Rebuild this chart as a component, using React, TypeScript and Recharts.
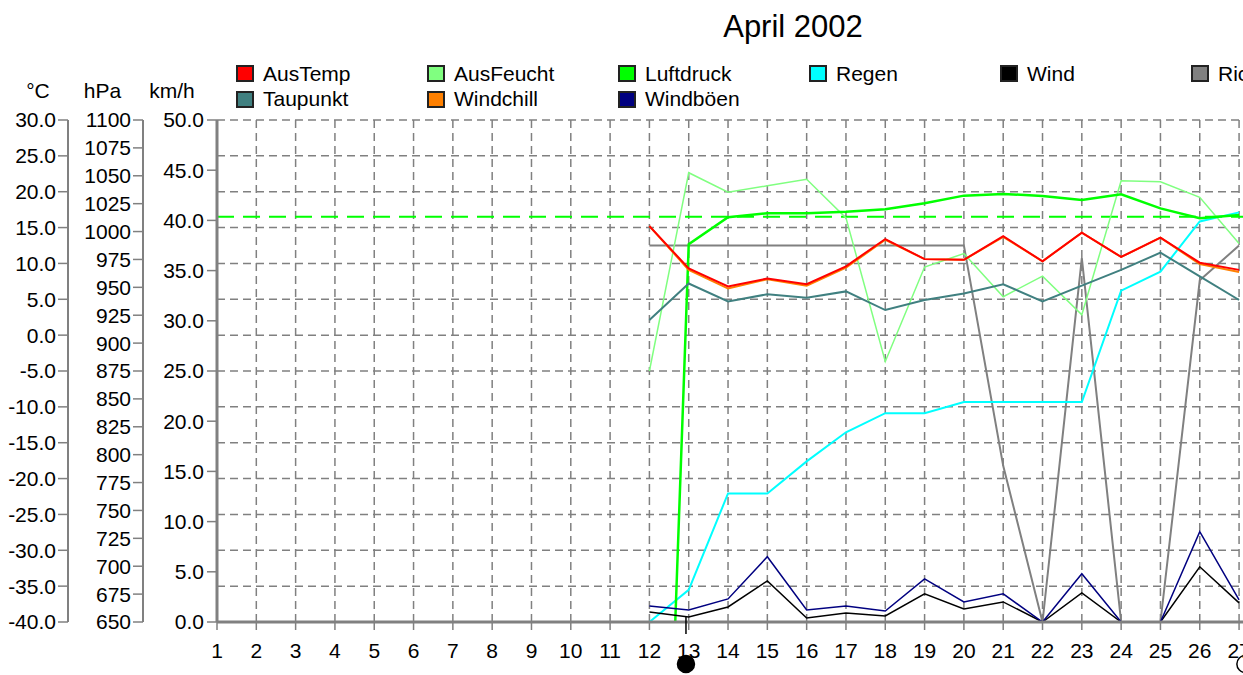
import React from 'react';
import {
  LineChart,
  Line,
  XAxis,
  YAxis,
  CartesianGrid,
  ReferenceLine,
  ReferenceDot,
  Legend,
} from 'recharts';

const FONT = "'Liberation Sans', Arial, sans-serif";

// ---- categories / ticks ----
const days = [1, 2, 3, 4, 5, 6, 7, 8, 9, 10, 11, 12, 13, 14, 15, 16, 17, 18, 19, 20, 21, 22, 23, 24, 25, 26, 27, 28, 29, 30];
const tempTicks = [-40, -35, -30, -25, -20, -15, -10, -5, 0, 5, 10, 15, 20, 25, 30];
const hpaTicks = [650, 675, 700, 725, 750, 775, 800, 825, 850, 875, 900, 925, 950, 975, 1000, 1025, 1050, 1075, 1100];
const kmhTicks = [0, 5, 10, 15, 20, 25, 30, 35, 40, 45, 50];

// ---- series values (days 12 .. 27) ----
const firstDataDay = 12;
const ausTemp = [15.2, 9.3, 6.8, 7.9, 7.1, 9.6, 13.4, 10.6, 10.5, 13.8, 10.3, 14.3, 10.9, 13.6, 10.1, 9.1];
const windchill = [15.2, 9.1, 6.5, 7.8, 6.9, 9.4, 13.3, 10.6, 10.5, 13.7, 10.3, 14.3, 10.9, 13.6, 9.9, 8.8];
const taupunkt = [2.1, 7.2, 4.7, 5.7, 5.2, 6.1, 3.5, 4.9, 5.8, 7.1, 4.7, 6.9, 9.1, 11.5, 8.2, 4.9];
const ausFeucht = [50, 89.5, 85.6, 86.9, 88.2, 80.5, 51.9, 70.7, 73.4, 64.8, 68.9, 61.2, 87.9, 87.7, 84.6, 75.4];
const luftdruck = [0, 988.6, 1012.8, 1016.4, 1016.4, 1017.8, 1020.0, 1025.3, 1032.2, 1033.7, 1031.9, 1028.3, 1033.4, 1020.8, 1011.9, 1014.8];
const regen = [0, 3.2, 12.8, 12.8, 16.0, 18.9, 20.8, 20.8, 21.9, 21.9, 21.9, 21.9, 33.0, 34.9, 39.9, 40.8];
const wind = [1.0, 0.5, 1.5, 4.1, 0.4, 0.9, 0.6, 2.8, 1.3, 2.0, 0, 2.9, 0, 0, 5.5, 1.9];
const windboeen = [1.6, 1.2, 2.3, 6.5, 1.2, 1.6, 1.1, 4.3, 2.0, 2.8, 0, 4.8, 0, 0, 9.0, 2.2];
const richtung = [270, 270, 270, 270, 270, 270, 270, 270, 270, 112, 0, 261, 0, 0, 245, 270];

const normalPressure = 1013.25;
const moonPhases = [
  { day: 12.93, phase: 'new' },
  { day: 27.16, phase: 'full' },
];

// ---- axis ids (ordered: innermost first) ----
const AX_KMH = 'y1kmh';
const AX_HPA = 'y2hpa';
const AX_TEMP = 'y3temp';
const AX_HUM = 'y4hum';
const AX_RAIN = 'y5rain';
const AX_DIR = 'y6dir';

// ---- series styling table ----
type S = { key: string; name: string; color: string; axis: string; width: number };
const series: S[] = [
  { key: 'richtung', name: 'Richtung', color: '#808080', axis: AX_DIR, width: 2 },
  { key: 'regen', name: 'Regen', color: '#00FFFF', axis: AX_RAIN, width: 2 },
  { key: 'ausFeucht', name: 'AusFeucht', color: '#80FF80', axis: AX_HUM, width: 1.5 },
  { key: 'luftdruck', name: 'Luftdruck', color: '#00FF00', axis: AX_HPA, width: 2.5 },
  { key: 'taupunkt', name: 'Taupunkt', color: '#408080', axis: AX_TEMP, width: 2 },
  { key: 'windchill', name: 'Windchill', color: '#FF8000', axis: AX_TEMP, width: 2 },
  { key: 'ausTemp', name: 'AusTemp', color: '#FF0000', axis: AX_TEMP, width: 2 },
  { key: 'wind', name: 'Wind', color: '#000000', axis: AX_KMH, width: 1.5 },
  { key: 'windboeen', name: 'Windböen', color: '#000080', axis: AX_KMH, width: 1.5 },
];
const seriesByKey: Record<string, S> = Object.fromEntries(series.map((s) => [s.key, s]));
const legendRows = [
  ['ausTemp', 'ausFeucht', 'luftdruck', 'regen', 'wind', 'richtung'],
  ['taupunkt', 'windchill', 'windboeen'],
];

const valuesByKey: Record<string, number[]> = {
  ausTemp, windchill, taupunkt, ausFeucht, luftdruck, regen, wind, windboeen, richtung,
};

const data = days.map((d) => {
  const i = d - firstDataDay;
  const row: Record<string, number | null> = { day: d };
  Object.keys(valuesByKey).forEach((k) => {
    const arr = valuesByKey[k];
    row[k] = i >= 0 && i < arr.length ? arr[i] : null;
  });
  return row;
});

const GRAY = '#808080';
const tickStyle = { fill: '#000', fontSize: 21, fontFamily: FONT };

const renderLegend = () => (
  <div style={{ fontSize: 21, fontFamily: FONT, color: '#000' }}>
    {legendRows.map((row, r) => (
      <div key={r} style={{ display: 'flex', height: 25.5 }}>
        {row.map((k) => {
          const s = seriesByKey[k];
          return (
            <div key={k} style={{ width: 191, flex: '0 0 191px', display: 'flex', alignItems: 'center' }}>
              <span
                style={{
                  display: 'inline-block',
                  boxSizing: 'border-box',
                  width: 18,
                  height: 17,
                  border: '2px solid #222',
                  background: s.color,
                }}
              />
              <span style={{ marginLeft: 9, whiteSpace: 'nowrap' }}>{s.name}</span>
            </div>
          );
        })}
      </div>
    ))}
  </div>
);

const MoonShape = (props: any) => {
  const { cx, cy, phase } = props;
  const full = phase === 'full';
  return (
    <g>
      <line x1={cx} x2={cx} y1={cy - 6} y2={cy + 12} stroke="#000" strokeWidth={1.5} />
      <circle
        cx={cx}
        cy={cy + 42}
        r={8.5}
        fill={full ? '#fff' : '#000'}
        stroke="#000"
        strokeWidth={1.5}
      />
    </g>
  );
};

export default function App() {
  return (
    <div
      style={{
        position: 'absolute',
        left: 0,
        top: 0,
        width: 1243,
        height: 675,
        overflow: 'hidden',
        background: '#fff',
        fontFamily: FONT,
      }}
    >
      <div
        style={{
          position: 'absolute',
          left: 0,
          top: 12,
          width: 1586,
          textAlign: 'center',
          fontSize: 31,
          lineHeight: '30px',
          color: '#000',
        }}
      >
        April 2002
      </div>
      <LineChart
        width={1400}
        height={690}
        data={data}
        margin={{ top: 120, right: 43, bottom: 0, left: 0 }}
      >
        <CartesianGrid
          yAxisId={AX_TEMP}
          stroke={GRAY}
          strokeWidth={1.5}
          strokeDasharray="8 5"
        />
        <XAxis
          dataKey="day"
          type="number"
          domain={[1, 30]}
          ticks={days}
          interval={0}
          height={68}
          tickSize={8}
          tickMargin={13}
          tick={tickStyle}
          tickLine={{ stroke: GRAY, strokeWidth: 1.5 }}
          axisLine={{ stroke: GRAY, strokeWidth: 3 }}
          allowDataOverflow
        />
        <XAxis
          xAxisId="top"
          orientation="top"
          type="number"
          domain={[1, 30]}
          height={0}
          tick={false}
          tickLine={false}
          axisLine={{ stroke: GRAY, strokeWidth: 2 }}
        />
        <YAxis
          yAxisId={AX_KMH}
          orientation="left"
          width={74}
          domain={[0, 50]}
          ticks={kmhTicks}
          interval={0}
          tickSize={10}
          tickMargin={3}
          tick={tickStyle}
          tickFormatter={(v: number) => v.toFixed(1)}
          tickLine={{ stroke: GRAY, strokeWidth: 1.5 }}
          axisLine={{ stroke: GRAY, strokeWidth: 3 }}
          allowDataOverflow
          label={{ value: 'km/h', position: 'top', offset: 22, dx: -8, fill: '#000', fontSize: 21 }}
        />
        <YAxis
          yAxisId={AX_HPA}
          orientation="left"
          width={75}
          domain={[650, 1100]}
          ticks={hpaTicks}
          interval={0}
          tickSize={10}
          tickMargin={2}
          tick={tickStyle}
          tickFormatter={(v: number) => String(v)}
          tickLine={{ stroke: GRAY, strokeWidth: 1.5 }}
          axisLine={{ stroke: GRAY, strokeWidth: 2 }}
          allowDataOverflow
          label={{ value: 'hPa', position: 'top', offset: 22, dx: -3, fill: '#000', fontSize: 21 }}
        />
        <YAxis
          yAxisId={AX_TEMP}
          orientation="left"
          width={68}
          domain={[-40, 30]}
          ticks={tempTicks}
          interval={0}
          tickSize={10}
          tickMargin={2}
          tick={tickStyle}
          tickFormatter={(v: number) => v.toFixed(1)}
          tickLine={{ stroke: GRAY, strokeWidth: 1.5 }}
          axisLine={{ stroke: GRAY, strokeWidth: 2 }}
          allowDataOverflow
          label={{ value: '°C', position: 'top', offset: 22, dx: 4, fill: '#000', fontSize: 21 }}
        />
        <YAxis yAxisId={AX_HUM} hide width={0} domain={[0, 100]} allowDataOverflow />
        <YAxis yAxisId={AX_RAIN} hide width={0} domain={[0, 50]} allowDataOverflow />
        <YAxis yAxisId={AX_DIR} hide width={0} domain={[0, 360]} allowDataOverflow />

        <ReferenceLine
          yAxisId={AX_HPA}
          y={normalPressure}
          stroke="#00FF00"
          strokeWidth={2}
          strokeDasharray="17 9"
        />

        {series.map((s) => (
          <Line
            key={s.key}
            yAxisId={s.axis}
            dataKey={s.key}
            name={s.name}
            type="linear"
            stroke={s.color}
            strokeWidth={s.width}
            dot={false}
            activeDot={false}
            isAnimationActive={false}
            connectNulls={false}
          />
        ))}

        {moonPhases.map((m) => (
          <ReferenceDot
            key={m.phase}
            yAxisId={AX_KMH}
            x={m.day}
            y={0}
            ifOverflow="visible"
            shape={(p: any) => <MoonShape {...p} phase={m.phase} />}
          />
        ))}

        <Legend
          layout="horizontal"
          verticalAlign="middle"
          align="center"
          content={renderLegend}
          wrapperStyle={{ position: 'absolute', left: 236, top: 61, width: 1200, margin: 0 }}
        />
      </LineChart>
    </div>
  );
}
